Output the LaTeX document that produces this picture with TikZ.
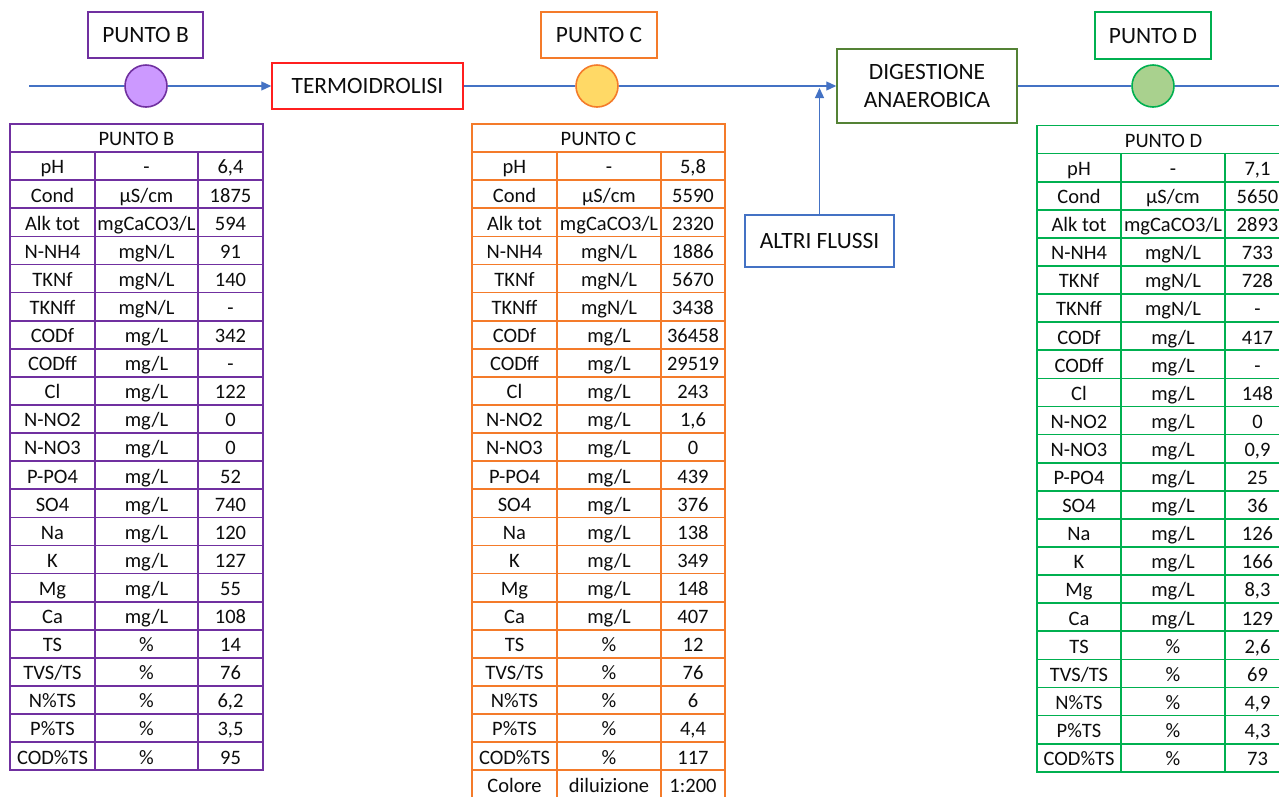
\documentclass[tikz,border=0pt]{standalone}
\usepackage{fontspec}
\setmainfont{Carlito}
\usetikzlibrary{arrows.meta}

\definecolor{flowblue}{HTML}{4472C4}
\definecolor{ptBline}{HTML}{7030A0}
\definecolor{ptBfill}{HTML}{CC99FF}
\definecolor{ptCline}{HTML}{F47B2A}
\definecolor{ptCfill}{HTML}{FFD966}
\definecolor{ptDline}{HTML}{00B050}
\definecolor{ptDfill}{HTML}{A9D18E}
\definecolor{digline}{HTML}{548235}
\definecolor{termoline}{HTML}{FF1F1F}
\definecolor{inktext}{HTML}{0D0D0D}

\newcommand\stagefont{\fontsize{23.4}{27.6}\selectfont}
\newcommand\cellfont{\fontsize{20.5}{24}\selectfont}

\tikzset{
  flow/.style={draw=flowblue, line width=1.2pt},
  flowarrow/.style={flow, -{Triangle[length=10pt,width=9pt]}},
  stage/.style={draw, line width=1.5pt, fill=white, inner sep=0pt,
    font=\stagefont, text=inktext, align=center},
  probe/.style={circle, line width=1.6pt, minimum size=42pt, inner sep=0pt},
  cell/.style={inner sep=0pt, font=\cellfont, text=inktext,
    text height=15.5pt, text depth=0pt},
  gridline/.style={line width=1.7pt, line join=miter},
}

% #1 letter, #2 colour, #3 left edge, #4 first divider, #5 second divider,
% #6 right edge, #7 top edge, #8 rows (name/unit/value)
\newcommand\datatable[8]{%
  \node[cell] (tab#1-head) at ({(#3+#6)/2},{#7+14.05}) {PUNTO #1};
  \draw[gridline, draw=#2] (#3,#7) rectangle (#6,{#7+28.1});
  \foreach \p/\u/\v [count=\r] in {#8} {
    \pgfmathsetmacro\ya{#7+\r*28.1}
    \pgfmathsetmacro\yb{\ya+28.1}
    \pgfmathsetmacro\ym{\ya+14.05}
    \draw[gridline, draw=#2] (#3,\ya) rectangle (#6,\yb)
      (#4,\ya) -- (#4,\yb) (#5,\ya) -- (#5,\yb);
    \node[cell] (tab#1-\r-name) at ({(#3+#4)/2},\ym) {\p};
    \node[cell] (tab#1-\r-unit) at ({(#4+#5)/2},\ym) {\u};
    \node[cell] (tab#1-\r-value) at ({(#5+#6)/2},\ym) {\v};
  }%
}

\begin{document}
\begin{tikzpicture}[x=1pt, y=-1pt]
\useasboundingbox (0,0) rectangle (1279,796);
\clip (0,0) rectangle (1279,796);
\fill[white] (0,0) rectangle (1279,796);

% process stages
\node[stage, draw=termoline, minimum width=191pt, minimum height=46pt] (termo) at (367.5,86) {TERMOIDROLISI};
\node[stage, draw=digline, minimum width=180pt, minimum height=74pt] (dig) at (927,86) {DIGESTIONE\\ANAEROBICA};
\node[stage, draw=flowblue, minimum width=149pt, minimum height=52pt] (altri) at (819.5,241) {ALTRI FLUSSI};

% sampling point labels
\node[stage, draw=ptBline, minimum width=115pt, minimum height=46pt] (labB) at (145.5,35) {PUNTO B};
\node[stage, draw=ptCline, minimum width=116pt, minimum height=46pt] (labC) at (599,35) {PUNTO C};
\node[stage, draw=ptDline, minimum width=116pt, minimum height=47pt] (labD) at (1153,35.5) {PUNTO D};

% sampling points on the line
\node[probe, draw=ptBline, fill=ptBfill] (ptB) at (146,86) {};
\node[probe, draw=ptCline, fill=ptCfill] (ptC) at (597,86) {};
\node[probe, draw=ptDline, fill=ptDfill] (ptD) at (1153,86) {};

% main flow
\coordinate (start) at (29,86);
\coordinate (end) at (1290,86);
\coordinate (inlet) at (819.5,88);
\draw[flow] (start) -- (ptB);
\draw[flowarrow] (ptB) -- (termo);
\draw[flow] (termo) -- (ptC);
\draw[flowarrow] (ptC) -- (dig);
\draw[flow] (dig) -- (ptD);
\draw[flow] (ptD) -- (end);
\draw[flowarrow] (altri) -- (inlet);

% analysis tables
\datatable{B}{ptBline}{10}{95}{198}{263}{124}{%
  pH/-/6{,}4, Cond/µS\slash cm/1875, Alk tot/mgCaCO3\slash L/594,
  N-NH4/mgN\slash L/91, TKNf/mgN\slash L/140, TKNff/mgN\slash L/-,
  CODf/mg\slash L/342, CODff/mg\slash L/-, Cl/mg\slash L/122,
  N-NO2/mg\slash L/0, N-NO3/mg\slash L/0, P-PO4/mg\slash L/52,
  SO4/mg\slash L/740, Na/mg\slash L/120, K/mg\slash L/127,
  Mg/mg\slash L/55, Ca/mg\slash L/108, TS/\%/14, TVS\slash TS/\%/76,
  N\%TS/\%/6{,}2, P\%TS/\%/3{,}5, COD\%TS/\%/95}

\datatable{C}{ptCline}{472}{557}{661}{725}{124}{%
  pH/-/5{,}8, Cond/µS\slash cm/5590, Alk tot/mgCaCO3\slash L/2320,
  N-NH4/mgN\slash L/1886, TKNf/mgN\slash L/5670, TKNff/mgN\slash L/3438,
  CODf/mg\slash L/36458, CODff/mg\slash L/29519, Cl/mg\slash L/243,
  N-NO2/mg\slash L/1{,}6, N-NO3/mg\slash L/0, P-PO4/mg\slash L/439,
  SO4/mg\slash L/376, Na/mg\slash L/138, K/mg\slash L/349,
  Mg/mg\slash L/148, Ca/mg\slash L/407, TS/\%/12, TVS\slash TS/\%/76,
  N\%TS/\%/6, P\%TS/\%/4{,}4, COD\%TS/\%/117, Colore/diluizione/1:200}

\datatable{D}{ptDline}{1037}{1121}{1225}{1290}{125.5}{%
  pH/-/7{,}1, Cond/µS\slash cm/5650, Alk tot/mgCaCO3\slash L/2893,
  N-NH4/mgN\slash L/733, TKNf/mgN\slash L/728, TKNff/mgN\slash L/-,
  CODf/mg\slash L/417, CODff/mg\slash L/-, Cl/mg\slash L/148,
  N-NO2/mg\slash L/0, N-NO3/mg\slash L/0{,}9, P-PO4/mg\slash L/25,
  SO4/mg\slash L/36, Na/mg\slash L/126, K/mg\slash L/166,
  Mg/mg\slash L/8{,}3, Ca/mg\slash L/129, TS/\%/2{,}6, TVS\slash TS/\%/69,
  N\%TS/\%/4{,}9, P\%TS/\%/4{,}3, COD\%TS/\%/73}
\end{tikzpicture}
\end{document}
